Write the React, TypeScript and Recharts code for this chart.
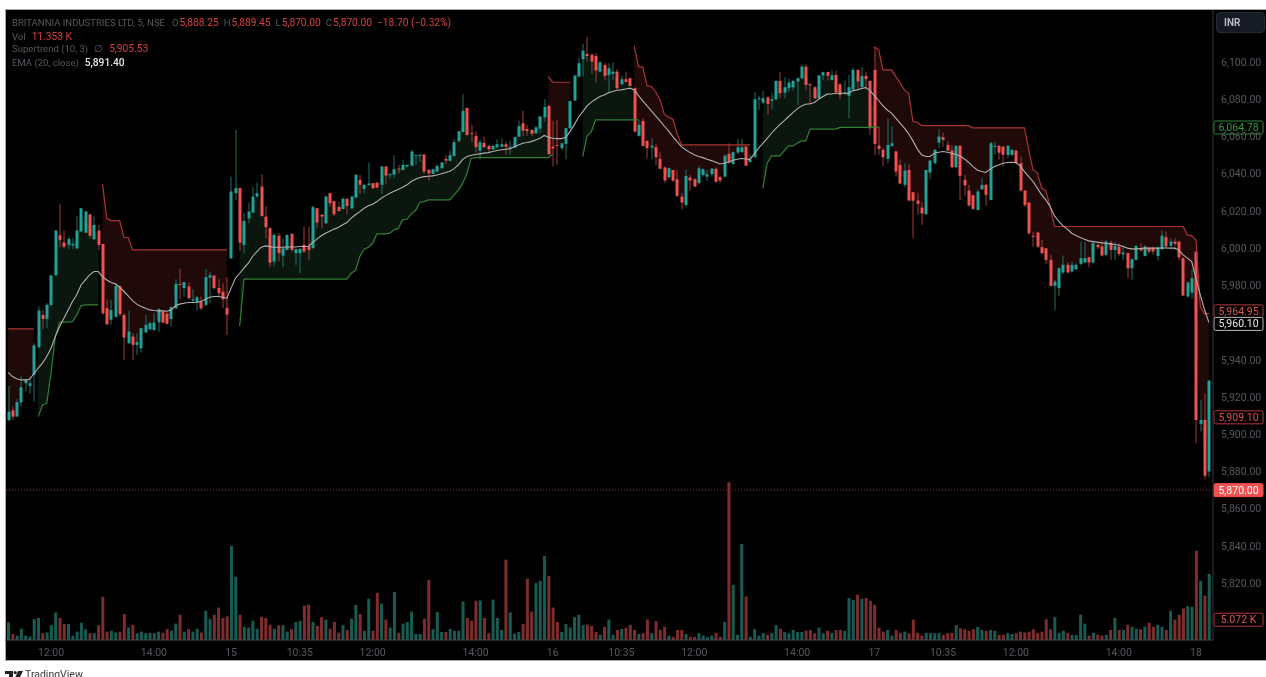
import { Area, Bar, ComposedChart, Line, ReferenceLine, XAxis, YAxis } from "recharts"

const _ = null
const gap = (n: number) => Array(n).fill(null)

const opens = [
  5907.7,5912.8,5909.5,5917.1,5927.4,5926,5931.9,5946.8,5964.1,5962,
  5969.5,5985.4,6006.9,6003,6001.7,6001.5,5999.9,6008.9,6008.3,6018,
  6004.8,6009.4,6002.3,5967.7,5961.5,5963.2,5979.4,5964.1,5948.9,5952.5,
  5948,5946.2,5954.8,5956.4,5956,5960.2,5965.9,5964.7,5961.8,5967.7,
  5980.8,5978.5,5979.4,5971.8,5970.8,5971.3,5969.5,5984.2,5985.3,5978.6,
  5976.5,5967.9,5994.6,6029.5,6032.2,6001.7,6016,6019.1,6027.7,6033,
  6016.9,6010.7,5992.8,6006.6,5996,5999,6007.6,5997.3,5997.3,6001.8,
  6000.9,6000,6021.4,6017.9,6013.4,6029.5,6025.2,6022.1,6021,6026.4,
  6021.3,6027.2,6036.7,6031.8,6033.8,6034.9,6035.2,6034,6043.8,6039.2,
  6039.5,6042.7,6042,6043.8,6044.3,6049.7,6049.5,6050.3,6042,6039.9,
  6041.1,6042.9,6047.9,6046.9,6049.5,6057.6,6062.4,6075.3,6061.9,6060.3,
  6052.4,6056.5,6054.9,6053.1,6054.2,6054.5,6055.8,6054.2,6054,6059.9,
  6067.1,6064,6063.5,6061.7,6064.2,6070.3,6076.4,6054.5,6055.4,6053.7,
  6056,6064.4,6079.3,6092.1,6101.4,6104.3,6103.8,6103.2,6094.8,6098.4,
  6093,6093.6,6094.8,6088,6090.7,6091.2,6085.9,6060.3,6068.3,6057.6,
  6054,6054.2,6047.9,6043.3,6038.1,6042,6037,6027.7,6023.2,6037.9,
  6037,6034.9,6039.3,6038.4,6039.7,6042.6,6038.1,6038.4,6050.6,6045.2,
  6051.3,6051.5,6054.5,6046.3,6048.8,6080,6078.2,6081,6079.2,6080,
  6089.8,6083.5,6085.9,6086.4,6089.5,6091.2,6097.5,6088,6086.4,6080.5,
  6092.7,6094.6,6090.3,6093,6088,6082.8,6081.8,6085.3,6095.7,6086.4,
  6092.5,6089.8,6095.7,6055.1,6052.8,6047.9,6054.9,6051.9,6044.7,6034,
  6042,6030,6025.6,6021.8,6018.2,6040.6,6045.6,6056.7,6059.6,6055.4,
  6052.4,6043.5,6054.9,6036.7,6030.9,6028.4,6020.5,6031.6,6034,6025.9,
  6054.6,6054.9,6054.5,6050.1,6050.1,6052.4,6045.6,6030.9,6024.5,6006.6,
  6008.4,6000.5,5999.9,5993.7,5979.7,5978.5,5986.9,5991,5987.4,5988.7,
  5991.5,5992.3,5995.1,5992.3,6001.7,6000.9,5996.4,6003,5999,6000.9,
  5996.6,5997.3,5989.2,5993.7,6000,5995.8,6000,6000,5995.8,5999.4,
  6005.9,6001.2,6003.5,6003.5,5994.6,5974,5976.1,5998.1,5905.6,5907.7,5880,
]

const closes = [
  5912.2,5909.5,5917.2,5925.3,5929.2,5927.4,5947.7,5966.5,5962,5969.5,
  5985.4,6009.4,6004.4,6000.8,6004.9,6002.3,6009.4,6021.4,6019.6,6006.6,
  6012.5,6001.7,5965,5959.1,5966.8,5979.7,5964.5,5952,5955.2,5948,
  5949.6,5957,5958.8,5959.7,5960,5967.2,5960,5959.3,5968.3,5980.8,
  5980.4,5981.7,5973.1,5972.5,5973.6,5967.7,5984.4,5985.4,5978.5,5975.8,
  5972.5,5964.3,6030.4,6032.2,6003,6014.6,6019.6,6027.7,6029.5,6017.3,
  6011.2,5992.2,6007.1,5997.3,5999.9,6007.1,5999,5999.4,5999.6,5998.2,
  5999,6022,6013.7,6017,6027.7,6024.1,6018.2,6020,6026.6,6022.7,
  6027.7,6039.3,6034,6034,6034.7,6032.2,6032.5,6043.8,6039,6039.7,
  6042.4,6042.4,6044.7,6044.7,6051.9,6050.1,6050.1,6041.1,6040.2,6042.4,
  6044.2,6046,6047,6049.9,6056.9,6062.8,6073.7,6060.8,6061.5,6054.2,
  6056.9,6054.2,6053.1,6054.9,6055.8,6055.8,6054.4,6054.5,6059.6,6065.5,
  6063.1,6062.8,6061.4,6064.8,6070.7,6075.8,6050.4,6053.5,6055,6056.3,
  6064.4,6079,6092.7,6099.3,6106.1,6103.2,6100.2,6095.4,6099.8,6092.5,
  6096.6,6094.8,6085.9,6090.7,6089.3,6087.1,6062.6,6066.2,6054.9,6053.7,
  6054.9,6048.8,6042.6,6036.3,6042.9,6036.3,6028.1,6024.5,6038.8,6036.3,
  6033.1,6042.9,6042.4,6039.7,6042.7,6035.6,6036.3,6049.7,6046,6051.5,
  6054.2,6054.2,6044.3,6047.7,6080,6080.5,6080.5,6077.5,6080,6089.8,
  6083.2,6086.4,6088.9,6089.8,6091.2,6097.5,6087.7,6087.7,6080.5,6092.7,
  6094.5,6092.5,6092.9,6083.7,6082.3,6083.5,6086.4,6095.7,6089.5,6092.5,
  6090.7,6064.4,6056,6053.3,6048.8,6055.4,6056.3,6041.1,6034.7,6041.7,
  6025.6,6025.4,6023.8,6018.6,6042,6047,6052.8,6059.9,6058.1,6052.4,
  6043.5,6054.9,6038.8,6033.8,6022.9,6021.1,6030.4,6034,6028.6,6056.3,
  6054.9,6051.3,6050.1,6054.9,6052.8,6045.6,6030.9,6023.2,6008,6006.2,
  6000.8,5997.3,5993.7,5979.7,5982,5989.2,5991,5986.9,5991,5991,
  5994.6,5994.6,5992.3,6002.6,6000.5,5996,6003.5,5999,6001.2,5996.9,
  5997.6,5989.2,5994,6001.2,5998.7,6000.9,5998.2,5998.2,6000.3,6006.6,
  6000.9,6003.5,6002.3,5995.1,5974.5,5981.5,5983.8,5907.7,5907.7,5877.7,5928.8,
]

const highs = [
  5926,5914.9,5918.8,5931.4,5929.6,5929.2,5948.9,5968.6,5966.8,5970.4,
  5985.4,6009.8,6023.7,6009.4,6006.2,6005.3,6017.3,6021.4,6020.2,6018.7,
  6016.9,6012.5,6002.3,5972.5,5972.2,5981.1,5980.2,5965,5966.5,5954.3,
  5954.3,5957,5964.1,5960.6,5965,5967.7,5966.8,5965.9,5968.6,5983.3,
  5989,5982,5981.5,5977.9,5974.3,5974,5988.8,5987.4,5985.4,5983.3,
  5981.1,5984.4,6038.4,6063.5,6032.2,6018.7,6024.5,6032.7,6035.2,6039.7,
  6022.7,6011.2,6008,6008,6005.3,6007.1,6008,5999.9,6000,6011.6,
  6011.6,6022.9,6021.4,6018.2,6028,6029.5,6025.6,6024.7,6026.8,6026.8,
  6028,6039.9,6039.3,6034.5,6046,6034.9,6035.2,6044.2,6044.2,6040.2,
  6049.9,6044.7,6047.4,6044.7,6052.8,6050.1,6050.4,6050.4,6042.4,6042.7,
  6044.7,6046.1,6050.1,6052.4,6058.5,6063,6082.7,6075.3,6066.2,6062.8,
  6058.5,6059.9,6055.4,6055.4,6058.5,6058.8,6057.2,6057.8,6059.9,6068.5,
  6073.7,6066.2,6063.9,6065.6,6071,6080,6076.9,6068.5,6068.9,6056.7,
  6064.4,6079,6092.7,6102,6109.7,6113.6,6104.7,6104.7,6100.6,6099.3,
  6099.3,6099.8,6096.1,6092.5,6094.8,6091.6,6086.4,6068.9,6069.8,6057.8,
  6059,6055.8,6051.5,6043.8,6043.3,6042,6042,6029.5,6042,6039.3,
  6037.5,6044.2,6042.9,6042,6042.9,6043.4,6038.8,6050.1,6056.3,6051.9,
  6058.5,6058.5,6054.9,6050.1,6083.7,6081.8,6084.4,6081.4,6083.2,6090,
  6094.5,6091.8,6091.2,6090.3,6091.8,6098.4,6098.8,6088.6,6086.8,6093,
  6094.8,6094.8,6095.4,6095.4,6088.4,6090,6093,6097,6096.1,6097.2,
  6094.8,6090,6108.2,6065.3,6053.7,6069.8,6065.6,6052.4,6047.7,6045.6,
  6045.2,6030,6029.5,6024.7,6042,6047.4,6053.1,6063.9,6062.1,6057.2,
  6055.4,6055.3,6055.4,6039.3,6034,6028.6,6031.6,6037.5,6034.5,6057.2,
  6057.2,6055.4,6054.9,6055.4,6053.1,6052.8,6049.2,6031.3,6024.5,6008.9,
  6008.9,6004.4,5999.9,5996.4,5983,5989.8,5996,5992.3,5992.8,5991.9,
  6003.5,6003.5,5995.5,6004,6002.6,6004.4,6004.4,6004,6003.5,6002.6,
  6001.7,5997.6,5994.6,6001.7,6002.6,6001.7,6000.9,6000.9,6000.9,6009.4,
  6008.9,6005.3,6005.3,6004,5995.1,5982,5988.7,5998.1,5918.5,5922,5929.2,
]

const lows = [
  5906.9,5907.7,5909.5,5914.9,5923,5921.7,5917.6,5946.2,5956.6,5957,
  5968.6,5985.1,6000.5,5999.9,5999.4,5999.4,5999.4,6008.9,6008,6005.3,
  6004.4,5999,5964.1,5958.8,5958.8,5962.3,5963.2,5940,5948.6,5940,
  5942.7,5943.9,5954.3,5956,5955.7,5955.2,5959.7,5959.1,5957.9,5967.2,
  5972.5,5974,5972.5,5970.4,5966.5,5966.8,5969,5970.4,5977.9,5973.6,
  5967.7,5953.4,5994,6025.9,5998.7,5997.3,6013.4,6018.7,6027.3,6016.9,
  6005.3,5989.7,5990.1,5992.8,5989.7,5999,5998.1,5991,5986.5,5997.3,
  5993.7,5999.6,6010.7,6010.7,6013,6022.3,6017.3,6019.6,6020.9,6018.2,
  6021.1,6026.8,6029.1,6029.5,6033.8,6031.6,6032.2,6029.1,6034.5,6037,
  6037.5,6039.9,6041.7,6043.4,6044.2,6044.7,6046.5,6039.9,6036.3,6039.9,
  6041,6042.7,6045.2,6046.5,6049.2,6056.7,6062.1,6060.3,6057,6051.3,
  6047.7,6053.7,6051.3,6053.1,6053.5,6054.2,6050.1,6050.1,6053.7,6059.6,
  6060.3,6060.3,6060.3,6061.4,6061.7,6068,6050.4,6043.8,6044.7,6052.8,
  6047.7,6063.9,6079.3,6091.8,6092.1,6100.2,6093.6,6088.9,6094.5,6090,
  6083.2,6090.3,6085.3,6087.7,6089.1,6087.1,6062.2,6059.9,6054.6,6048.3,
  6047.7,6044.7,6042.4,6034.9,6037,6035.4,6027.4,6020.9,6022,6030.9,
  6032.7,6034.5,6038.4,6036.1,6038.4,6035.2,6034.9,6038.1,6045.2,6044.7,
  6050.6,6051.3,6044.2,6046,6048.6,6074.2,6077.5,6071.6,6074.6,6079.3,
  6080.5,6080.5,6084.1,6084.6,6076.9,6091,6084.6,6076.9,6080,6080,
  6090.3,6090,6090,6083.2,6080,6082.3,6069.8,6085,6085.3,6086.4,
  6085.9,6060.8,6050.1,6050.1,6044.2,6045.6,6054.2,6038.4,6034.5,6032.7,
  6025.2,6005.3,6017.9,6012.5,6017.9,6037,6045.2,6053.7,6054.2,6051.9,
  6042.9,6043.1,6025.9,6028.1,6022.3,6020.5,6020.2,6031.3,6022.9,6025.6,
  6050.1,6047.4,6043.8,6048.3,6049.5,6045.2,6030.4,6022,6007.1,6000.8,
  5999.9,5996.4,5991.5,5979.4,5966.5,5974.4,5986.2,5986.5,5986.9,5988.3,
  5990.8,5991.9,5989.7,5991.9,5999.4,5995.5,5995.5,5993.7,5993.7,5995.8,
  5993.7,5983.8,5983,5993.3,5998.2,5995.5,5997.3,5996.4,5993.3,5999,
  5999.9,5999.4,5999,5993.3,5974.4,5973.6,5972.9,5895.2,5901.5,5875.9,5876.9,
]

// volume in thousands
const volumes = [
  4.4,1.5,1.1,2.8,1.1,.8,5.2,5.5,1.7,1.9,
  3.7,6.9,5.5,4,4,1.1,2.1,4.3,2.7,1.7,
  1.7,3.7,10.8,2.1,2.3,1.9,2.1,6.5,3.1,3.8,
  1.7,2.1,1.7,1.8,1.7,2.1,1.8,2.7,2.3,4.1,
  6.3,2.1,2.7,2.1,2.8,1.9,7.3,5.2,6.3,8.1,
  5.5,5.9,23.5,15.8,6.3,3.3,3.1,4.8,2.8,5.8,
  5.5,3.8,2.8,3.7,3.7,2.1,2.7,4.5,4.8,8.6,
  8.8,4.5,3.5,5.7,5.1,2.8,4.5,1.8,3.7,2.5,
  5.3,8.8,6.5,2.3,10.3,2.3,11.8,9.1,5.1,3.1,
  12,1.8,4.1,4.5,7.1,1.5,1.5,5.3,15,2.7,
  7,2,2,2.8,2.3,2.3,9.6,5.5,4.8,9.8,
  9.9,5.5,1.7,10.1,5.5,2.5,20.1,6.9,1.6,2,
  4,15.3,7.1,14.2,14.8,21,16,8.1,4.5,2,
  4,3.1,5.7,6.3,3.7,3.8,3.5,2,1.3,3.3,
  5.1,1.3,2.5,2.8,3.1,3.8,2.5,1.5,1.7,5.1,
  1.7,4.7,2.5,3.3,1.1,.8,2.5,2.5,1.5,.8,
  .8,1.7,1.1,.7,1.1,1.8,.8,4.5,39.4,13.8,
  1.3,24,10.9,.8,2.7,1.1,1.7,1.3,1.7,3.7,
  2.8,2,1.7,2.5,2,2,2.3,2.5,1.7,3.1,
  1.7,2.3,1.8,2.5,2.5,2.3,10.5,10,11.3,10.3,
  10.5,9.8,8.8,3.1,2.1,2.5,1.1,2.5,1.8,2.1,
  1.7,5.1,1.8,1.1,1.8,1.7,1.7,1.7,1.3,1.7,
  1.8,3.7,2.9,2.7,2.3,2.7,3.3,2.5,2.3,2.5,
  2.3,1.3,1.3,1.7,1.5,1.7,2.1,1.9,2.1,2.7,
  1.8,2.1,5.2,2.7,5.7,1.8,2.3,1.7,1.3,1.2,
  6.3,4.1,1.1,1.8,1.3,1.1,1.3,2.5,5.5,2.5,
  2.5,3.8,3.3,2.8,2.7,3.3,4.3,3.3,3.8,3.3,
  2.5,7.3,5.1,6.3,7.9,8.5,8.3,22.3,14.8,11.1,16.5,
]

const emaValues = [
  5933.3,5931,5929.8,5929.2,5929.2,5929.6,5932.5,5935.5,5938.2,5941.8,
  5946.2,5952.5,5957.9,5962.3,5966.8,5971.3,5974.9,5980.2,5982.9,5985.6,
  5987.4,5987.4,5984.7,5982.9,5981.5,5980.8,5979,5976.7,5974.3,5971.8,
  5969.9,5968.6,5967.7,5966.8,5966.5,5966.3,5966.3,5966.1,5966.8,5969,
  5969.9,5970.4,5970.8,5970.8,5970.9,5971.3,5972.5,5973.6,5974,5974,
  5973.6,5973.1,5978.5,5983.8,5986.5,5989.2,5991.9,5995.5,5998.1,6000.5,
  6001.2,6000.8,6000.5,6000.5,6000.5,6000.6,6000.6,6000.6,6000.9,6000.9,
  6000.9,6003,6004.8,6006.6,6008,6009.1,6010.2,6011.1,6012.5,6013.7,
  6016.1,6017.9,6019.6,6021.4,6022.7,6023.6,6025,6026.8,6028.2,6029.5,
  6030.6,6031.6,6032.7,6034,6035.8,6037,6037.9,6038.4,6038.6,6038.8,
  6039.3,6039.9,6040.6,6041.3,6042.7,6044.7,6047.7,6049.2,6049.9,6050.3,
  6050.6,6051,6051.3,6051.9,6052.4,6052.8,6053.1,6053.3,6054.5,6055.4,
  6056.3,6056.7,6057.2,6058.1,6059,6060.5,6059.6,6059,6058.8,6058.8,
  6059.4,6062.6,6066.2,6070.3,6073.3,6076.4,6078.4,6080,6081.4,6082.3,
  6083.5,6084.1,6084.8,6085,6085.5,6085.9,6085,6081.9,6079.1,6076.4,
  6073.7,6071,6068.3,6065.6,6063,6059.9,6057.2,6054.5,6052.8,6051.3,
  6050.1,6049.2,6048.6,6047.7,6047,6046.1,6045.2,6045.6,6046.3,6047.2,
  6047.7,6048.1,6047.9,6047.7,6050.6,6053.7,6056.3,6059,6061.7,6064.2,
  6066.5,6068.5,6070.7,6072.8,6074.8,6076.4,6077.3,6077.5,6078.2,6080,
  6081.4,6082.7,6082.8,6083.2,6083.2,6083.2,6083.2,6084.6,6085,6085.7,
  6086.2,6084.6,6081.9,6079.3,6076.4,6074.2,6072.5,6069.8,6067.1,6064.4,
  6061.4,6057.6,6053.3,6050.1,6049.2,6049.2,6051,6051.5,6051.9,6051.5,
  6051,6050.3,6049.5,6047.9,6046,6043.8,6042,6041.1,6040.6,6042.4,
  6043.8,6044.7,6045.6,6046,6046.1,6046,6044.2,6041.1,6038.4,6035.8,
  6032.2,6028.6,6025.9,6022.3,6017.3,6014.3,6011.9,6010.2,6008,6006.8,
  6005.7,6004.8,6003.9,6003.5,6003.2,6002.8,6002.6,6002.3,6001.9,6001.7,
  6000.9,6000,5999.6,5999.6,5999.8,6000,6000,6000,6000,6000.1,
  6000.1,6000,6000,5999,5996.4,5994.6,5992.8,5983.8,5974.9,5966.9,5960.1,
]

// supertrend while price is above it (green line), null where the trend is down
const supertrendUp = [
  ...gap(7),5909.5,5915.6,5916.7,
  5932.8,5952.5,5960.2,5960.2,5960.2,5960.5,5964.1,5969,5969.5,5969.5,
  5969.5,5969.5,...gap(30),_,_,5958.2,5983.3,5983.3,5983.3,5983.3,5983.3,5983.3,5983.3,
  5983.3,5983.3,5983.3,5983.3,5983.3,5983.3,5983.3,5983.3,5983.3,5983.3,
  5983.3,5983.3,5983.3,5983.3,5983.3,5983.3,5983.3,5983.3,5986.5,5988,
  5995.5,5999.4,6000.5,6002.6,6007.7,6007.7,6007.7,6008,6009.8,6010.7,
  6015.2,6015.5,6018.4,6020.2,6024.5,6025,6025.9,6025.9,6025.9,6025.9,
  6025.9,6025.9,6028.6,6031.3,6034.9,6040.2,6048.3,6048.6,6048.6,6048.6,
  6048.6,6048.6,6048.6,6048.6,6048.6,6048.6,6048.6,6048.6,6048.6,6048.6,
  6048.6,6048.6,6048.6,6048.6,6048.6,6050.6,_,_,_,_,
  _,_,6049.2,6060.3,6062.6,6068.9,6068.9,6068.9,6068.9,6068.9,
  6068.9,6068.9,6068.9,6068.9,6068.9,6068.9,...gap(28),
  6032.2,6045.6,6049.5,6049.5,6049.5,6052.4,
  6054.9,6054.9,6056.3,6057.6,6057.6,6063.9,6063.9,6063.9,6063.9,6063.9,
  6063.9,6063.9,6064.8,6064.8,6064.8,6064.8,6064.8,6064.8,6064.8,6064.8,
  6064.8,6064.8,...gap(79),
]

// supertrend while price is below it (red line), null where the trend is up
const supertrendDown = [
  5956.6,5956.6,5956.6,5956.6,5956.6,5956.6,5956.6,...gap(15),
  6034.5,6016,6014.8,6014.8,6014.8,6005.7,6005.7,5999,
  5999,5999,5999,5999,5999,5999,5999,5999,5999,5999,
  5999,5999,5999,5999,5999,5999,5999,5999,5999,5999,
  5999,5999,...gap(74),
  6092.1,6089.1,6089.1,6089.1,6089.1,6089.1,...gap(14),
  6108.6,6097.5,6097.2,6087.1,
  6086.8,6084,6079.6,6072.1,6070.3,6069.2,6061.7,6055.4,6055.4,6055.4,
  6055.4,6055.4,6055.4,6055.4,6055.4,6055.4,6055.4,6055.4,6055.4,6055.4,
  6055.4,6055.4,6055.4,6055.4,...gap(28),
  6108.2,6106.5,6095.7,6095.7,6095.7,6092.1,6088.6,6085,
  6083.2,6068,6067.6,6065.8,6065.8,6065.8,6065.8,6065.8,6065.8,6065.8,
  6065.8,6065.8,6065.8,6065.8,6065.8,6064.6,6064.6,6064.6,6064.6,6064.6,
  6064.6,6064.6,6064.6,6064.6,6064.6,6064.6,6064.6,6064.6,6052.8,6042,
  6040.6,6032.2,6030.7,6022.3,6011.6,6011.6,6011.6,6011.6,6011.6,6011.6,
  6011.6,6011.6,6011.6,6011.6,6011.6,6011.6,6011.6,6011.6,6011.6,6011.6,
  6011.6,6011.6,6011.6,6011.6,6011.6,6011.6,6011.6,6011.6,6011.6,6011.6,
  6011.6,6011.6,6011.6,6011.6,6011.6,6007.1,6006.6,6004.4,5968.6,5964.7,5964.95,
]

// 5,960 and 5,800 sit under the value tags in the original, so they are left out
const priceTicks = [5820,5840,5860,5880,5900,5920,5940,5980,6000,6020,6040,6060,6080,6100]
const timeTickBars = [10,34,52,68,85,109,127,143,160,184,202,218,235,259,277]
const timeTickLabels = ["12:00","14:00","15","10:35","12:00","14:00","16","10:35","12:00","14:00","17","10:35","12:00","14:00","18"]

const priceTags = [
  { value: 6064.78, text: "6,064.78", color: "#2e8b3a", fill: "#000", textColor: "#2f9e3f", nudge: 0 },
  { value: 5964.95, text: "5,964.95", color: "#b23a38", fill: "#000", textColor: "#e2504d", nudge: -2 },
  { value: 5960.1, text: "5,960.10", color: "#b8b8b8", fill: "#000", textColor: "#e8e8e8", nudge: 1.5 },
  { value: 5909.1, text: "5,909.10", color: "#b23a38", fill: "#000", textColor: "#e2504d", nudge: 0 },
  { value: 5870, text: "5,870.00", color: "#f0524f", fill: "#f0524f", textColor: "#fff", nudge: 0 },
]

const data = opens.map((open, i) => ({
  i,
  open,
  high: highs[i],
  low: lows[i],
  close: closes[i],
  volume: volumes[i],
  ema: emaValues[i],
  up: supertrendUp[i],
  down: supertrendDown[i],
  mid: (open + closes[i]) / 2,
}))

const GREEN = "#22a296"
const RED = "#f0524f"
const FONT = "Roboto, sans-serif"

function Candle(props: any) {
  const { x, y, width, height, payload } = props
  const { open, close, high, low } = payload
  const up = close >= open
  const perUnit = height / (high - low || 1)
  const top = y + (high - Math.max(open, close)) * perUnit
  const bodyH = Math.max(Math.abs(open - close) * perUnit, 1)
  const cx = Math.round(x + width / 2)
  return (
    <g>
      <rect x={cx - 0.5} y={y} width={1} height={height} fill={up ? "#1a736b" : "#a33d3b"} />
      <rect x={cx - 1.5} y={top} width={3} height={bodyH} fill={up ? GREEN : RED} />
    </g>
  )
}

function VolumeBar(props: any) {
  const { x, y, width, height, payload } = props
  const up = payload.close >= payload.open
  const cx = x + width / 2
  return <rect x={cx - 1.5} y={y} width={3} height={height} fill={up ? "#185b53" : "#7e2d2c"} />
}

function PriceTag(props: any) {
  const { viewBox, text, color, fill, textColor, nudge = 0 } = props
  const left = viewBox.x + viewBox.width + 1
  const cy = viewBox.y + nudge
  return (
    <g>
      <rect x={left} y={cy - 6.5} width={49} height={13} rx={1.5} fill={fill} stroke={color} />
      <text x={left + 24.5} y={cy + 3.5} textAnchor="middle" fontSize={10.5} fontFamily={FONT} fill={textColor}>
        {text}
      </text>
    </g>
  )
}

const gray = { color: "#555a60", fontSize: 9.55 }
const red = { color: "#d8403e", fontSize: 10.2, marginLeft: 1 }

function LegendRow({ top, children }: { top: number; children: any }) {
  return (
    <div style={{ position: "absolute", left: 12, top, whiteSpace: "nowrap", lineHeight: "13px", fontFamily: FONT }}>
      {children}
    </div>
  )
}

export default function App() {
  return (
    <div style={{ position: "absolute", left: 0, top: 0, width: 1266, height: 677, overflow: "hidden", background: "#fff", filter: "blur(0.35px)" }}>
      <div
        style={{
          position: "absolute",
          left: 5,
          top: 9,
          width: 1261,
          height: 652,
          boxSizing: "border-box",
          background: "#000",
          borderLeft: "1px solid #a8a8a8",
          borderTop: "1px solid #a8a8a8",
          borderBottom: "1px solid #a8a8a8",
        }}
      />
      <div style={{ position: "absolute", left: 5, top: 10 }}>
        <ComposedChart width={1261} height={651} data={data} margin={{ top: 0, right: 0, bottom: 0, left: 0 }}>
          <XAxis
            dataKey="i"
            type="category"
            ticks={timeTickBars}
            interval={0}
            padding={{ left: 1, right: 2 }}
            tickFormatter={(v: number) => timeTickLabels[timeTickBars.indexOf(v)]}
            tick={{ fill: "#55585f", fontSize: 10.5, fontFamily: FONT }}
            tickLine={false}
            tickMargin={3}
            axisLine={{ stroke: "#4a4a4e" }}
            height={21}
          />
          <XAxis xAxisId="vol" dataKey="i" type="category" hide padding={{ left: 1, right: 2 }} />
          <YAxis
            orientation="right"
            width={53}
            domain={[5789.5, 6127.9]}
            allowDataOverflow
            ticks={priceTicks}
            interval={0}
            tickFormatter={(v: number) => v.toLocaleString("en-US", { minimumFractionDigits: 2 })}
            tick={{ fill: "#55585f", fontSize: 10.5, fontFamily: FONT }}
            tickLine={false}
            tickMargin={2}
            axisLine={{ stroke: "#33363c" }}
          />
          <YAxis yAxisId="vol" hide domain={[0, 157.5]} allowDataOverflow />

          <Area
            dataKey={(d: any) => (d.up == null ? null : [d.up, d.mid])}
            fill="#0b160f"
            fillOpacity={1}
            stroke="none"
            isAnimationActive={false}
          />
          <Area
            dataKey={(d: any) => (d.down == null ? null : [d.down, d.mid])}
            fill="#1f0909"
            fillOpacity={1}
            stroke="none"
            isAnimationActive={false}
          />
          <Bar xAxisId="vol" yAxisId="vol" dataKey="volume" barSize={3} shape={<VolumeBar />} isAnimationActive={false} />
          <Bar dataKey={(d: any) => [d.low, d.high]} barSize={3} shape={<Candle />} isAnimationActive={false} />
          <Line dataKey="up" stroke="#327f36" strokeWidth={1.2} dot={false} isAnimationActive={false} />
          <Line dataKey="down" stroke="#a93433" strokeWidth={1.2} dot={false} isAnimationActive={false} />
          <Line dataKey="ema" stroke="#b0b0b0" strokeWidth={1.1} dot={false} isAnimationActive={false} />

          <ReferenceLine y={5870} stroke="#8e2f2e" strokeDasharray="1 2" />
          {priceTags.map((t) => (
            <ReferenceLine
              key={t.text}
              y={t.value}
              stroke="none"
              label={(p: any) => <PriceTag {...p} text={t.text} color={t.color} fill={t.fill} textColor={t.textColor} nudge={t.nudge} />}
            />
          ))}
          <ReferenceLine
            yAxisId="vol"
            xAxisId="vol"
            y={5.072}
            stroke="none"
            label={(p: any) => <PriceTag {...p} text="5.072 K" color="#b23a38" fill="#000" textColor="#e2504d" />}
          />
        </ComposedChart>
      </div>

      <LegendRow top={14}>
        <span style={gray}>BRITANNIA INDUSTRIES LTD, 5, NSE</span>
        <span style={{ ...gray, marginLeft: 7 }}>O</span><span style={red}>5,888.25</span>
        <span style={{ ...gray, marginLeft: 5 }}>H</span><span style={red}>5,889.45</span>
        <span style={{ ...gray, marginLeft: 5 }}>L</span><span style={red}>5,870.00</span>
        <span style={{ ...gray, marginLeft: 5 }}>C</span><span style={red}>5,870.00</span>
        <span style={{ ...red, marginLeft: 5 }}>−18.70 (−0.32%)</span>
      </LegendRow>
      <LegendRow top={28}>
        <span style={gray}>Vol</span>
        <span style={{ ...red, marginLeft: 6 }}>11.353 K</span>
      </LegendRow>
      <LegendRow top={40}>
        <span style={gray}>Supertrend (10, 3)</span>
        <span style={{ ...gray, marginLeft: 6 }}>∅</span>
        <span style={{ ...red, marginLeft: 6 }}>5,905.53</span>
      </LegendRow>
      <LegendRow top={54}>
        <span style={gray}>EMA (20, close)</span>
        <span style={{ color: "#e6e6e6", fontSize: 10.2, marginLeft: 6, fontWeight: 500 }}>5,891.40</span>
      </LegendRow>

      <div
        style={{
          position: "absolute",
          left: 1216,
          top: 12,
          width: 49,
          height: 21,
          boxSizing: "border-box",
          background: "#161a25",
          border: "1px solid #262a35",
          borderRadius: 4,
          color: "#b4b7c0",
          fontFamily: FONT,
          fontSize: 10,
          fontWeight: 700,
          lineHeight: "19px",
          paddingLeft: 7,
        }}
      >
        INR
      </div>

      <svg style={{ position: "absolute", left: 5, top: 671 }} width={18} height={8} viewBox="0 0 18 8">
        <path d="M0 0h8v8H4V3H0z M13 0h5l-4 8H9.5z" fill="#222" />
        <circle cx={10.2} cy={1.6} r={1.6} fill="#222" />
      </svg>
      <div style={{ position: "absolute", left: 25, top: 669, color: "#3a3a3a", fontFamily: FONT, fontSize: 10.5, lineHeight: "12px" }}>
        TradingView
      </div>
    </div>
  )
}
